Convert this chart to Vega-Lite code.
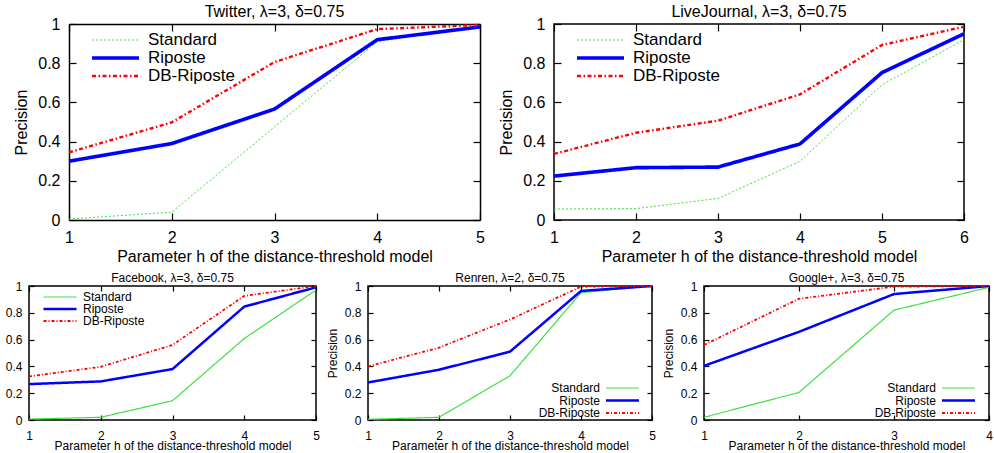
{
  "$schema": "https://vega.github.io/schema/vega-lite/v6.json",
  "background": "white",
  "padding": {"left": 4, "top": 3, "right": 0, "bottom": 0},
  "columns": 1,
  "align": "none",
  "spacing": 6,
  "resolve": {"scale": {"color": "independent", "strokeDash": "independent", "strokeWidth": "independent"}},
  "config": {
    "font": "Liberation Sans",
    "view": {"stroke": "black", "strokeWidth": 1.5},
    "axis": {"grid": false, "domain": false, "domainColor": "black", "domainWidth": 1.5, "tickColor": "black", "tickWidth": 1.2, "labelColor": "black", "titleColor": "black", "titleFontWeight": "normal", "labelFlush": false, "labelOverlap": false},
    "title": {"fontWeight": "normal", "color": "black", "anchor": "middle"},
    "legend": {"labelColor": "black", "symbolType": "stroke", "title": null, "rowPadding": 0}
  },
  "datasets": {
    "twitter": [
      {"h": 1, "method": "Standard", "p": 0.005}, {"h": 2, "method": "Standard", "p": 0.04}, {"h": 3, "method": "Standard", "p": 0.475}, {"h": 4, "method": "Standard", "p": 0.91}, {"h": 5, "method": "Standard", "p": 0.99},
      {"h": 1, "method": "Riposte", "p": 0.30}, {"h": 2, "method": "Riposte", "p": 0.39}, {"h": 3, "method": "Riposte", "p": 0.566}, {"h": 4, "method": "Riposte", "p": 0.92}, {"h": 5, "method": "Riposte", "p": 0.985},
      {"h": 1, "method": "DB-Riposte", "p": 0.345}, {"h": 2, "method": "DB-Riposte", "p": 0.498}, {"h": 3, "method": "DB-Riposte", "p": 0.806}, {"h": 4, "method": "DB-Riposte", "p": 0.974}, {"h": 5, "method": "DB-Riposte", "p": 0.995}
    ],
    "livejournal": [
      {"h": 1, "method": "Standard", "p": 0.056}, {"h": 2, "method": "Standard", "p": 0.058}, {"h": 3, "method": "Standard", "p": 0.11}, {"h": 4, "method": "Standard", "p": 0.30}, {"h": 5, "method": "Standard", "p": 0.69}, {"h": 6, "method": "Standard", "p": 0.92},
      {"h": 1, "method": "Riposte", "p": 0.224}, {"h": 2, "method": "Riposte", "p": 0.267}, {"h": 3, "method": "Riposte", "p": 0.27}, {"h": 4, "method": "Riposte", "p": 0.388}, {"h": 5, "method": "Riposte", "p": 0.752}, {"h": 6, "method": "Riposte", "p": 0.95},
      {"h": 1, "method": "DB-Riposte", "p": 0.337}, {"h": 2, "method": "DB-Riposte", "p": 0.445}, {"h": 3, "method": "DB-Riposte", "p": 0.507}, {"h": 4, "method": "DB-Riposte", "p": 0.641}, {"h": 5, "method": "DB-Riposte", "p": 0.893}, {"h": 6, "method": "DB-Riposte", "p": 0.986}
    ],
    "facebook": [
      {"h": 1, "method": "Standard", "p": 0.007}, {"h": 2, "method": "Standard", "p": 0.02}, {"h": 3, "method": "Standard", "p": 0.144}, {"h": 4, "method": "Standard", "p": 0.608}, {"h": 5, "method": "Standard", "p": 0.97},
      {"h": 1, "method": "Riposte", "p": 0.268}, {"h": 2, "method": "Riposte", "p": 0.288}, {"h": 3, "method": "Riposte", "p": 0.38}, {"h": 4, "method": "Riposte", "p": 0.846}, {"h": 5, "method": "Riposte", "p": 0.99},
      {"h": 1, "method": "DB-Riposte", "p": 0.325}, {"h": 2, "method": "DB-Riposte", "p": 0.397}, {"h": 3, "method": "DB-Riposte", "p": 0.56}, {"h": 4, "method": "DB-Riposte", "p": 0.926}, {"h": 5, "method": "DB-Riposte", "p": 1.0}
    ],
    "renren": [
      {"h": 1, "method": "Standard", "p": 0.005}, {"h": 2, "method": "Standard", "p": 0.02}, {"h": 3, "method": "Standard", "p": 0.33}, {"h": 4, "method": "Standard", "p": 0.95}, {"h": 5, "method": "Standard", "p": 1.0},
      {"h": 1, "method": "Riposte", "p": 0.28}, {"h": 2, "method": "Riposte", "p": 0.375}, {"h": 3, "method": "Riposte", "p": 0.51}, {"h": 4, "method": "Riposte", "p": 0.963}, {"h": 5, "method": "Riposte", "p": 1.0},
      {"h": 1, "method": "DB-Riposte", "p": 0.40}, {"h": 2, "method": "DB-Riposte", "p": 0.54}, {"h": 3, "method": "DB-Riposte", "p": 0.75}, {"h": 4, "method": "DB-Riposte", "p": 0.995}, {"h": 5, "method": "DB-Riposte", "p": 1.0}
    ],
    "googleplus": [
      {"h": 1, "method": "Standard", "p": 0.02}, {"h": 2, "method": "Standard", "p": 0.206}, {"h": 3, "method": "Standard", "p": 0.82}, {"h": 4, "method": "Standard", "p": 0.99},
      {"h": 1, "method": "Riposte", "p": 0.404}, {"h": 2, "method": "Riposte", "p": 0.658}, {"h": 3, "method": "Riposte", "p": 0.94}, {"h": 4, "method": "Riposte", "p": 1.0},
      {"h": 1, "method": "DB-Riposte", "p": 0.56}, {"h": 2, "method": "DB-Riposte", "p": 0.905}, {"h": 3, "method": "DB-Riposte", "p": 0.995}, {"h": 4, "method": "DB-Riposte", "p": 1.0}
    ]
  },
  "concat": [
    {
      "spacing": 13,
      "resolve": {"scale": {"color": "independent", "strokeDash": "independent", "strokeWidth": "independent"}},
      "hconcat": [
        {
          "width": 451, "height": 196,
          "view": {"stroke": null},
          "title": {"text": "Twitter, λ=3, δ=0.75", "fontSize": 16, "offset": -4, "dx": 20},
          "data": {"name": "twitter"},
          "layer": [
            {
              "mark": {"type": "line", "clip": true},
              "encoding": {
                "x": {"field": "h", "type": "quantitative", "scale": {"domain": [1, 5], "nice": false, "zero": false, "range": [40, 451]},
                  "axis": {"orient": "bottom", "domain": true, "values": [1, 2, 3, 4, 5], "format": "d", "title": "Parameter h of the distance-threshold model", "tickSize": -7, "labelPadding": 16, "labelFontSize": 16, "titleFontSize": 16, "titlePadding": 3}},
                "y": {"field": "p", "type": "quantitative", "scale": {"domain": [0, 1], "nice": false},
                  "axis": {"orient": "left", "domain": true, "offset": -40, "values": [0, 0.2, 0.4, 0.6, 0.8, 1], "format": "~g", "title": "Precision", "tickSize": -7, "labelPadding": 16, "labelFontSize": 16, "titleFontSize": 16, "titlePadding": 8}},
                "color": {"field": "method", "type": "nominal", "scale": {"domain": ["Standard", "Riposte", "DB-Riposte"], "range": ["#3ee03e", "#0000ff", "#ff0000"]},
                  "legend": {"orient": "none", "legendX": 61, "legendY": 7, "symbolSize": 2209, "clipHeight": 18, "labelFontSize": 17, "labelOffset": 7}},
                "strokeDash": {"field": "method", "type": "nominal", "scale": {"domain": ["Standard", "Riposte", "DB-Riposte"], "range": [[2, 2], [1, 0], [4, 2.5, 1.5, 2.5]]},
                  "legend": {"orient": "none", "legendX": 61, "legendY": 7, "symbolSize": 2209, "clipHeight": 18, "labelFontSize": 17, "labelOffset": 7}},
                "strokeWidth": {"field": "method", "type": "nominal", "scale": {"type": "ordinal", "domain": ["Standard", "Riposte", "DB-Riposte"], "range": [1, 3.6, 2.4]},
                  "legend": {"orient": "none", "legendX": 61, "legendY": 7, "symbolSize": 2209, "clipHeight": 18, "labelFontSize": 17, "labelOffset": 7}}
              }
            },
            {
              "mark": {"type": "line", "opacity": 0},
              "encoding": {
                "x": {"field": "h", "type": "quantitative", "axis": {"orient": "top", "domain": true, "values": [1, 2, 3, 4, 5], "labels": false, "title": null, "tickSize": -7}},
                "y": {"field": "p", "type": "quantitative", "axis": {"orient": "right", "domain": true, "values": [0, 0.2, 0.4, 0.6, 0.8, 1], "labels": false, "title": null, "tickSize": -7}}
              }
            }
          ]
        },
        {
          "width": 410, "height": 196,
          "title": {"text": "LiveJournal, λ=3, δ=0.75", "fontSize": 16, "offset": -4},
          "data": {"name": "livejournal"},
          "layer": [
            {
              "mark": {"type": "line", "clip": true},
              "encoding": {
                "x": {"field": "h", "type": "quantitative", "scale": {"domain": [1, 6], "nice": false, "zero": false},
                  "axis": {"orient": "bottom", "values": [1, 2, 3, 4, 5, 6], "format": "d", "title": "Parameter h of the distance-threshold model", "tickSize": -7, "labelPadding": 16, "labelFontSize": 16, "titleFontSize": 16, "titlePadding": 3}},
                "y": {"field": "p", "type": "quantitative", "scale": {"domain": [0, 1], "nice": false},
                  "axis": {"orient": "left", "values": [0, 0.2, 0.4, 0.6, 0.8, 1], "format": "~g", "title": "Precision", "tickSize": -7, "labelPadding": 16, "labelFontSize": 16, "titleFontSize": 16, "titlePadding": 8}},
                "color": {"field": "method", "type": "nominal", "scale": {"domain": ["Standard", "Riposte", "DB-Riposte"], "range": ["#3ee03e", "#0000ff", "#ff0000"]},
                  "legend": {"orient": "none", "legendX": 21, "legendY": 7, "symbolSize": 2209, "clipHeight": 18, "labelFontSize": 17, "labelOffset": 7}},
                "strokeDash": {"field": "method", "type": "nominal", "scale": {"domain": ["Standard", "Riposte", "DB-Riposte"], "range": [[2, 2], [1, 0], [4, 2.5, 1.5, 2.5]]},
                  "legend": {"orient": "none", "legendX": 21, "legendY": 7, "symbolSize": 2209, "clipHeight": 18, "labelFontSize": 17, "labelOffset": 7}},
                "strokeWidth": {"field": "method", "type": "nominal", "scale": {"type": "ordinal", "domain": ["Standard", "Riposte", "DB-Riposte"], "range": [1, 3.6, 2.4]},
                  "legend": {"orient": "none", "legendX": 21, "legendY": 7, "symbolSize": 2209, "clipHeight": 18, "labelFontSize": 17, "labelOffset": 7}}
              }
            },
            {
              "mark": {"type": "line", "opacity": 0},
              "encoding": {
                "x": {"field": "h", "type": "quantitative", "axis": {"orient": "top", "values": [1, 2, 3, 4, 5, 6], "labels": false, "title": null, "tickSize": -7}},
                "y": {"field": "p", "type": "quantitative", "axis": {"orient": "right", "values": [0, 0.2, 0.4, 0.6, 0.8, 1], "labels": false, "title": null, "tickSize": -7}}
              }
            }
          ]
        }
      ]
    },
    {
      "spacing": 4,
      "resolve": {"scale": {"color": "independent", "strokeDash": "independent", "strokeWidth": "independent"}},
      "hconcat": [
        {
          "width": 287, "height": 134,
          "title": {"text": "Facebook, λ=3, δ=0.75", "fontSize": 12, "offset": -5},
          "data": {"name": "facebook"},
          "layer": [
            {
              "mark": {"type": "line", "clip": true},
              "encoding": {
                "x": {"field": "h", "type": "quantitative", "scale": {"domain": [1, 5], "nice": false, "zero": false},
                  "axis": {"orient": "bottom", "values": [1, 2, 3, 4, 5], "format": "d", "title": "Parameter h of the distance-threshold model", "tickSize": -5, "labelPadding": 15, "labelFontSize": 12, "titleFontSize": 12, "titlePadding": -1}},
                "y": {"field": "p", "type": "quantitative", "scale": {"domain": [0, 1], "nice": false},
                  "axis": {"orient": "left", "values": [0, 0.2, 0.4, 0.6, 0.8, 1], "format": "~g", "title": null, "tickSize": -5, "labelPadding": 12, "labelFontSize": 12}},
                "color": {"field": "method", "type": "nominal", "scale": {"domain": ["Standard", "Riposte", "DB-Riposte"], "range": ["#3ee03e", "#0000ff", "#ff0000"]},
                  "legend": {"orient": "none", "legendX": 13, "legendY": 5, "symbolSize": 1089, "clipHeight": 12, "labelFontSize": 12, "labelOffset": 5}},
                "strokeDash": {"field": "method", "type": "nominal", "scale": {"domain": ["Standard", "Riposte", "DB-Riposte"], "range": [[1, 0], [1, 0], [3, 2, 1, 2]]},
                  "legend": {"orient": "none", "legendX": 13, "legendY": 5, "symbolSize": 1089, "clipHeight": 12, "labelFontSize": 12, "labelOffset": 5}},
                "strokeWidth": {"field": "method", "type": "nominal", "scale": {"type": "ordinal", "domain": ["Standard", "Riposte", "DB-Riposte"], "range": [1.2, 2.5, 1.8]},
                  "legend": {"orient": "none", "legendX": 13, "legendY": 5, "symbolSize": 1089, "clipHeight": 12, "labelFontSize": 12, "labelOffset": 5}}
              }
            },
            {
              "mark": {"type": "line", "opacity": 0},
              "encoding": {
                "x": {"field": "h", "type": "quantitative", "axis": {"orient": "top", "values": [1, 2, 3, 4, 5], "labels": false, "title": null, "tickSize": -5}},
                "y": {"field": "p", "type": "quantitative", "axis": {"orient": "right", "values": [0, 0.2, 0.4, 0.6, 0.8, 1], "labels": false, "title": null, "tickSize": -5}}
              }
            }
          ]
        },
        {
          "width": 284, "height": 134,
          "title": {"text": "Renren, λ=2, δ=0.75", "fontSize": 12, "offset": -5},
          "data": {"name": "renren"},
          "layer": [
            {
              "mark": {"type": "line", "clip": true},
              "encoding": {
                "x": {"field": "h", "type": "quantitative", "scale": {"domain": [1, 5], "nice": false, "zero": false},
                  "axis": {"orient": "bottom", "values": [1, 2, 3, 4, 5], "format": "d", "title": "Parameter h of the distance-threshold model", "tickSize": -5, "labelPadding": 15, "labelFontSize": 12, "titleFontSize": 12, "titlePadding": -1}},
                "y": {"field": "p", "type": "quantitative", "scale": {"domain": [0, 1], "nice": false},
                  "axis": {"orient": "left", "values": [0, 0.2, 0.4, 0.6, 0.8, 1], "format": "~g", "title": "Precision", "tickSize": -5, "labelPadding": 12, "labelFontSize": 12, "titleFontSize": 12, "titlePadding": 5}},
                "color": {"field": "method", "type": "nominal", "scale": {"domain": ["Standard", "Riposte", "DB-Riposte"], "range": ["#3ee03e", "#0000ff", "#ff0000"]},
                  "legend": {"orient": "none", "legendX": 181, "legendY": 96, "symbolType": "M-3.3,0H3.3", "symbolSize": 100, "labelFontSize": 12, "labelAlign": "right", "labelOffset": -29, "symbolOffset": 67}},
                "strokeDash": {"field": "method", "type": "nominal", "scale": {"domain": ["Standard", "Riposte", "DB-Riposte"], "range": [[1, 0], [1, 0], [3, 2, 1, 2]]},
                  "legend": {"orient": "none", "legendX": 181, "legendY": 96, "symbolType": "M-3.3,0H3.3", "symbolSize": 100, "labelFontSize": 12, "labelAlign": "right", "labelOffset": -29, "symbolOffset": 67}},
                "strokeWidth": {"field": "method", "type": "nominal", "scale": {"type": "ordinal", "domain": ["Standard", "Riposte", "DB-Riposte"], "range": [1.2, 2.5, 1.8]},
                  "legend": {"orient": "none", "legendX": 181, "legendY": 96, "symbolType": "M-3.3,0H3.3", "symbolSize": 100, "labelFontSize": 12, "labelAlign": "right", "labelOffset": -29, "symbolOffset": 67}}
              }
            },
            {
              "mark": {"type": "line", "opacity": 0},
              "encoding": {
                "x": {"field": "h", "type": "quantitative", "axis": {"orient": "top", "values": [1, 2, 3, 4, 5], "labels": false, "title": null, "tickSize": -5}},
                "y": {"field": "p", "type": "quantitative", "axis": {"orient": "right", "values": [0, 0.2, 0.4, 0.6, 0.8, 1], "labels": false, "title": null, "tickSize": -5}}
              }
            }
          ]
        },
        {
          "width": 285, "height": 134,
          "title": {"text": "Google+, λ=3, δ=0.75", "fontSize": 12, "offset": -5},
          "data": {"name": "googleplus"},
          "layer": [
            {
              "mark": {"type": "line", "clip": true},
              "encoding": {
                "x": {"field": "h", "type": "quantitative", "scale": {"domain": [1, 4], "nice": false, "zero": false},
                  "axis": {"orient": "bottom", "values": [1, 2, 3, 4], "format": "d", "title": "Parameter h of the distance-threshold model", "tickSize": -5, "labelPadding": 15, "labelFontSize": 12, "titleFontSize": 12, "titlePadding": -1}},
                "y": {"field": "p", "type": "quantitative", "scale": {"domain": [0, 1], "nice": false},
                  "axis": {"orient": "left", "values": [0, 0.2, 0.4, 0.6, 0.8, 1], "format": "~g", "title": "Precision", "tickSize": -5, "labelPadding": 12, "labelFontSize": 12, "titleFontSize": 12, "titlePadding": 5}},
                "color": {"field": "method", "type": "nominal", "scale": {"domain": ["Standard", "Riposte", "DB-Riposte"], "range": ["#3ee03e", "#0000ff", "#ff0000"]},
                  "legend": {"orient": "none", "legendX": 181, "legendY": 96, "symbolType": "M-3.3,0H3.3", "symbolSize": 100, "labelFontSize": 12, "labelAlign": "right", "labelOffset": -29, "symbolOffset": 67}},
                "strokeDash": {"field": "method", "type": "nominal", "scale": {"domain": ["Standard", "Riposte", "DB-Riposte"], "range": [[1, 0], [1, 0], [3, 2, 1, 2]]},
                  "legend": {"orient": "none", "legendX": 181, "legendY": 96, "symbolType": "M-3.3,0H3.3", "symbolSize": 100, "labelFontSize": 12, "labelAlign": "right", "labelOffset": -29, "symbolOffset": 67}},
                "strokeWidth": {"field": "method", "type": "nominal", "scale": {"type": "ordinal", "domain": ["Standard", "Riposte", "DB-Riposte"], "range": [1.2, 2.5, 1.8]},
                  "legend": {"orient": "none", "legendX": 181, "legendY": 96, "symbolType": "M-3.3,0H3.3", "symbolSize": 100, "labelFontSize": 12, "labelAlign": "right", "labelOffset": -29, "symbolOffset": 67}}
              }
            },
            {
              "mark": {"type": "line", "opacity": 0},
              "encoding": {
                "x": {"field": "h", "type": "quantitative", "axis": {"orient": "top", "values": [1, 2, 3, 4], "labels": false, "title": null, "tickSize": -5}},
                "y": {"field": "p", "type": "quantitative", "axis": {"orient": "right", "values": [0, 0.2, 0.4, 0.6, 0.8, 1], "labels": false, "title": null, "tickSize": -5}}
              }
            }
          ]
        }
      ]
    }
  ]
}
